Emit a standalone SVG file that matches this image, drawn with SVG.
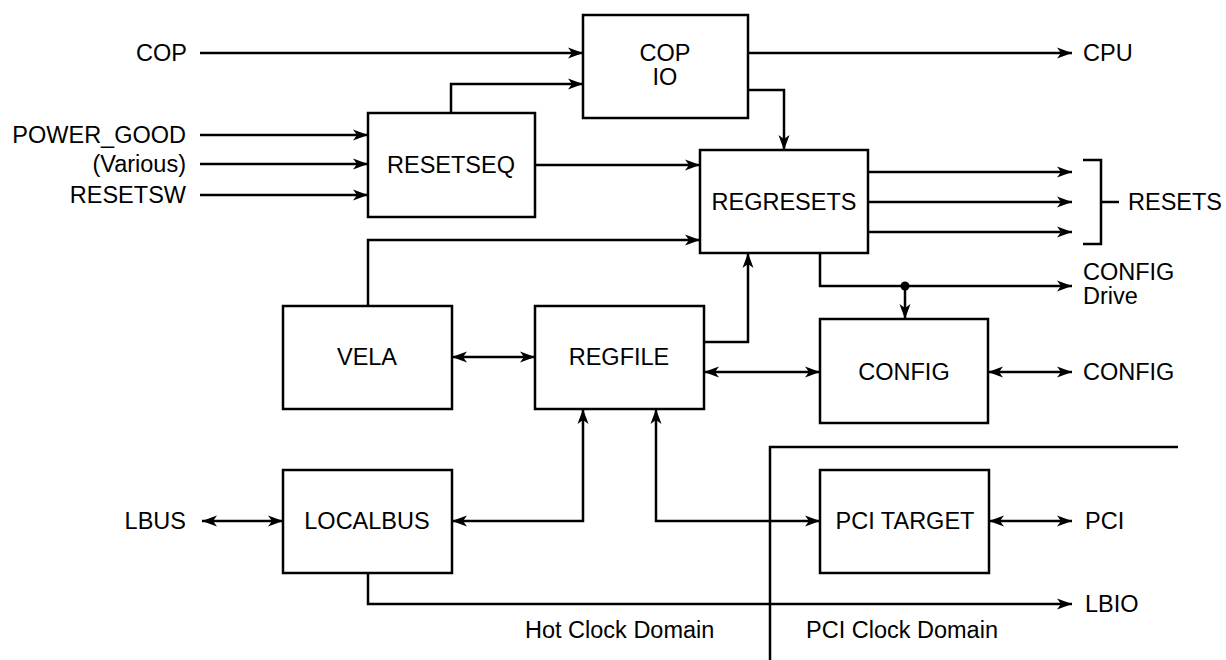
<svg xmlns="http://www.w3.org/2000/svg" width="1226" height="660" viewBox="0 0 1226 660">
<style>
.box{fill:#fff;stroke:#000;stroke-width:2.5}
.ln{fill:none;stroke:#000;stroke-width:2.5}
.a{marker-end:url(#ah)}
.b{marker-start:url(#ah);marker-end:url(#ah)}
text{font-family:"Liberation Sans",Arial,sans-serif;font-size:23.5px;fill:#000}
.c{text-anchor:middle}
.r{text-anchor:end}
</style>
<defs>
<marker id="ah" markerUnits="userSpaceOnUse" markerWidth="18" markerHeight="12" refX="15" refY="6" orient="auto-start-reverse" viewBox="0 0 18 12">
<path d="M0,0.5 L15,6 L0,11.5 L4,6 z" fill="#000"/>
</marker>
</defs>
<rect width="1226" height="660" fill="#fff"/>
<g id="connectors">
<path class="ln a" d="M200,53 H583"/>
<path class="ln a" d="M748,53 H1072"/>
<path class="ln a" d="M451,113 V84 H583"/>
<path class="ln a" d="M200,135 H368"/>
<path class="ln a" d="M200,164 H368"/>
<path class="ln a" d="M200,195 H368"/>
<path class="ln a" d="M748,90 H784 V150"/>
<path class="ln a" d="M535,165 H700"/>
<path class="ln a" d="M868,172 H1072"/>
<path class="ln a" d="M868,202 H1072"/>
<path class="ln a" d="M868,232 H1072"/>
<path class="ln" d="M1083,160 H1101 V244 H1083 M1101,202 H1119"/>
<path class="ln a" d="M368,306 V240 H700"/>
<path class="ln a" d="M704,342 H748 V253"/>
<path class="ln a" d="M820,253 V286 H1072"/>
<circle cx="905" cy="286" r="4.5" fill="#000"/>
<path class="ln a" d="M905,286 V319"/>
<path class="ln b" d="M452,357 H535"/>
<path class="ln b" d="M704,372 H820"/>
<path class="ln b" d="M988,372 H1072"/>
<path class="ln b" d="M202,521 H283"/>
<path class="ln b" d="M452,521 H583 V409"/>
<path class="ln b" d="M656,409 V521 H820"/>
<path class="ln b" d="M989,521 H1072"/>
<path class="ln a" d="M368,573 V604 H1072"/>
<path class="ln" d="M770,660 V447 H1178"/>
</g>
<g id="copio"><rect class="box" x="583" y="15" width="165" height="103"/><text class="c" x="665" y="61">COP</text><text class="c" x="665" y="85">IO</text></g>
<g id="resetseq"><rect class="box" x="368" y="113" width="167" height="104"/><text class="c" x="451" y="173">RESETSEQ</text></g>
<g id="regresets"><rect class="box" x="700" y="150" width="168" height="103"/><text class="c" x="784" y="210">REGRESETS</text></g>
<g id="vela"><rect class="box" x="283" y="306" width="169" height="103"/><text class="c" x="367" y="365">VELA</text></g>
<g id="regfile"><rect class="box" x="535" y="306" width="169" height="103"/><text class="c" x="619" y="365">REGFILE</text></g>
<g id="config"><rect class="box" x="820" y="319" width="168" height="104"/><text class="c" x="904" y="380">CONFIG</text></g>
<g id="localbus"><rect class="box" x="283" y="470" width="169" height="103"/><text class="c" x="367" y="529">LOCALBUS</text></g>
<g id="pcitarget"><rect class="box" x="820" y="470" width="169" height="103"/><text class="c" x="905" y="529">PCI TARGET</text></g>
<g id="labels">
<text class="r" x="187" y="61">COP</text>
<text class="r" x="186" y="143">POWER_GOOD</text>
<text class="r" x="186" y="172">(Various)</text>
<text class="r" x="186" y="203">RESETSW</text>
<text x="1083" y="61">CPU</text>
<text x="1128" y="210">RESETS</text>
<text x="1083" y="280">CONFIG</text>
<text x="1083" y="304">Drive</text>
<text x="1083" y="380">CONFIG</text>
<text x="1085" y="529">PCI</text>
<text x="1085" y="612">LBIO</text>
<text class="r" x="186" y="529">LBUS</text>
<text x="525" y="638">Hot Clock Domain</text>
<text x="806" y="638">PCI Clock Domain</text>
</g>
</svg>
